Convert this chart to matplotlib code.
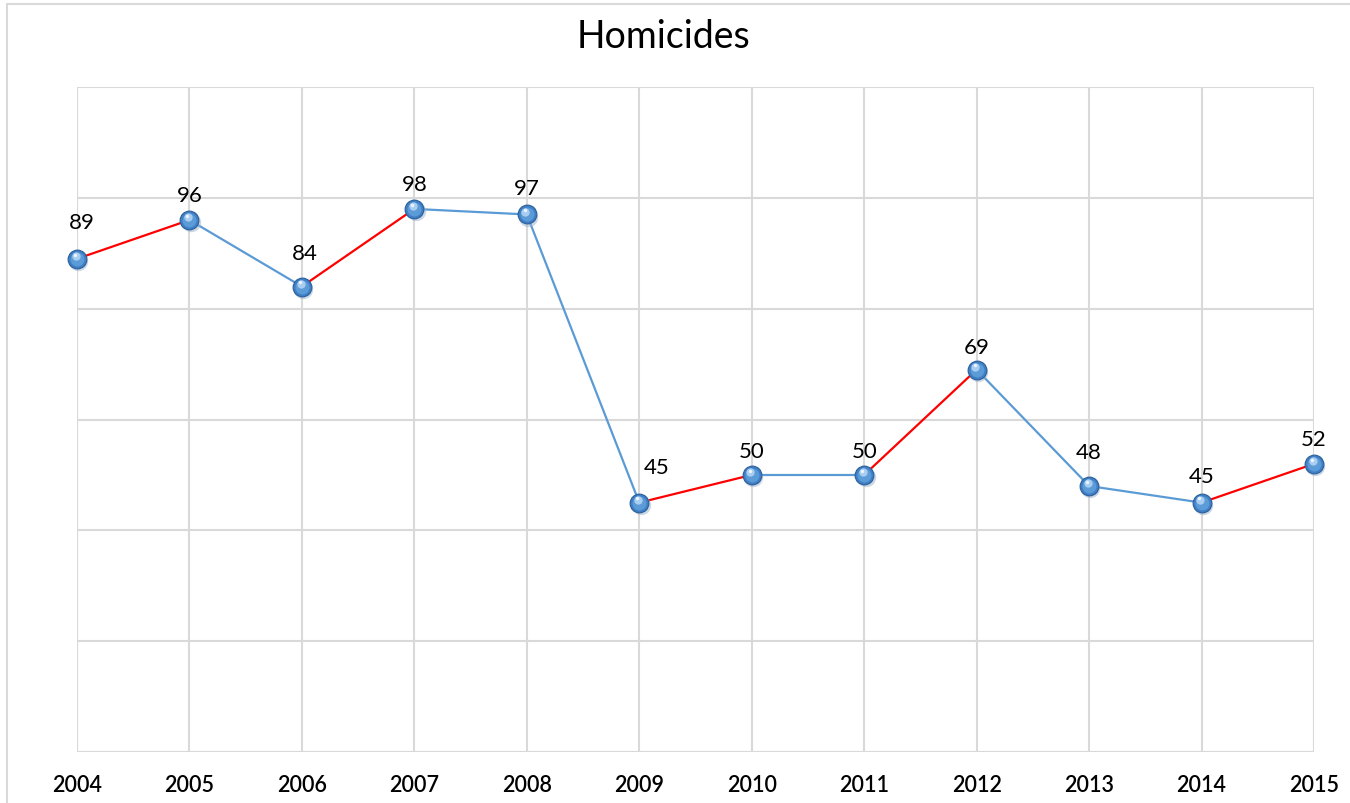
import matplotlib
matplotlib.use("Agg")
import matplotlib.pyplot as plt
from matplotlib.patches import Rectangle
import matplotlib.transforms as mtransforms

years = [2004, 2005, 2006, 2007, 2008, 2009, 2010, 2011, 2012, 2013, 2014, 2015]
homicides = [89, 96, 84, 98, 97, 45, 50, 50, 69, 48, 45, 52]
title = "Homicides"

# label offsets in pixels (dx, dy) relative to marker
label_offsets = [(5, 37), (0, 25), (3, 34), (0, 25), (0, 26), (17, 36),
                 (0, 24), (0, 24), (0, 23), (0, 34), (0, 27), (0, 25)]

plt.rcParams['font.family'] = ['Lato', 'DejaVu Sans']

DPI = 100
fig = plt.figure(figsize=(13.5, 8.04), dpi=DPI)
fig.patch.set_facecolor('white')

# outer chart border
fig.add_artist(Rectangle((7 / 1350, -0.05), 1.2, 1 - 4.5 / 804 + 0.05,
                         transform=fig.transFigure, fill=False,
                         edgecolor='#D9D9D9', linewidth=1.5))

ax = fig.add_axes([77 / 1350, (804 - 753) / 804, (1314 - 77) / 1350, 665 / 804])
x = list(range(len(years)))
ax.set_xlim(0, len(years) - 1)
ax.set_ylim(0, 120)
ax.set_yticks(range(0, 121, 20))
ax.set_xticks(x)
ax.set_xticklabels([str(y) for y in years], fontsize=15.5, fontweight='semibold')
ax.tick_params(axis='both', length=0)
ax.tick_params(axis='x', pad=16)
ax.set_yticklabels([])
ax.grid(True, color='#D9D9D9', linewidth=1.5)
ax.set_axisbelow(True)
for s in ax.spines.values():
    s.set_visible(False)
ax.axvline(0, color='#D9D9D9', linewidth=1.5, zorder=0)
ax.axhline(0, color='#D9D9D9', linewidth=1.5, zorder=0)

# segments: red for increases, blue otherwise
for i in range(len(x) - 1):
    col = '#FF0000' if homicides[i + 1] > homicides[i] else '#5B9BD5'
    ax.plot([x[i], x[i + 1]], [homicides[i], homicides[i + 1]],
            color=col, linewidth=1.6, zorder=2, solid_capstyle='round')

# sphere-like markers
shadow = mtransforms.offset_copy(ax.transData, fig=fig, x=1.0, y=-1.5, units='points')
ax.plot(x, homicides, 'o', markersize=14, color='#9DB3CC', alpha=0.5,
        markeredgewidth=0, transform=shadow, zorder=3, clip_on=False)
ax.plot(x, homicides, 'o', markersize=13.5, markerfacecolor='#3F7FC6',
        markeredgecolor='#2B5F99', markeredgewidth=0.8, zorder=4, clip_on=False)
ax.plot(x, homicides, 'o', markersize=10, markerfacecolor='#5B9BD8',
        markeredgewidth=0, zorder=5, clip_on=False)
hl = mtransforms.offset_copy(ax.transData, fig=fig, x=-1.0, y=2.0, units='points')
ax.plot(x, homicides, 'o', markersize=6, markerfacecolor='#A9CDF0',
        markeredgewidth=0, transform=hl, zorder=6, clip_on=False)
hl2 = mtransforms.offset_copy(ax.transData, fig=fig, x=-1.5, y=3.0, units='points')
ax.plot(x, homicides, 'o', markersize=2.5, markerfacecolor='#EAF4FF',
        markeredgewidth=0, transform=hl2, zorder=7, clip_on=False)

for xi, v, (dx, dy) in zip(x, homicides, label_offsets):
    ax.annotate(str(v), (xi, v), xytext=(dx * 72 / DPI, dy * 72 / DPI),
                textcoords='offset points', ha='center', va='center',
                fontsize=16, color='black', zorder=8, annotation_clip=False)

fig.text(663 / 1350, 1 - 37 / 804, title, ha='center', va='center', fontsize=27)

fig.savefig('out.png', dpi=DPI, facecolor='white')
